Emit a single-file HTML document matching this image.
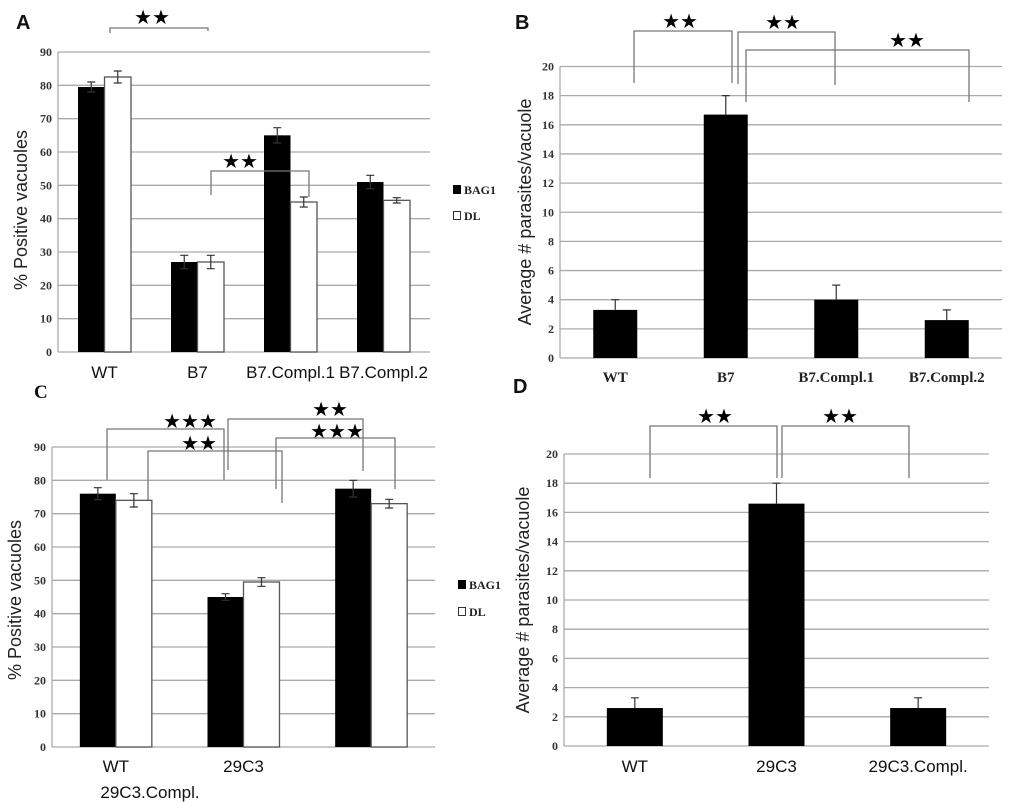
<!DOCTYPE html>
<html><head><meta charset="utf-8"><style>
html,body{margin:0;padding:0;background:#fff;}
svg{display:block;}
.tk{font-family:"Liberation Serif",serif;font-weight:bold;font-size:12px;fill:#333;}
.xl{font-family:"Liberation Sans",sans-serif;font-size:17px;fill:#111;}
.xls{font-family:"Liberation Serif",serif;font-weight:bold;font-size:15px;fill:#222;}
.yt{font-family:"Liberation Sans",sans-serif;font-size:18px;fill:#222;}
.lg{font-family:"Liberation Serif",serif;font-weight:bold;font-size:12px;fill:#222;}
.pl{font-family:"Liberation Sans",sans-serif;font-weight:bold;font-size:20px;fill:#111;}
.st{font-family:"DejaVu Sans",sans-serif;font-size:20px;fill:#000;}
</style></head><body>
<svg id="fig" width="1024" height="812" xmlns="http://www.w3.org/2000/svg"></svg>
<script>
// Panel A data
const catsA = ["WT","B7","B7.Compl.1","B7.Compl.2"];
const bagA = [79.5,27,65,51];
const bagErrA = [1.5,2,2.3,2];
const dlA = [82.5,27,45,45.5];
const dlErrA = [1.8,2,1.5,0.8];
const ticksA = [0,10,20,30,40,50,60,70,80,90];
// Panel B data
const catsB = ["WT","B7","B7.Compl.1","B7.Compl.2"];
const valB = [3.3,16.7,4,2.6];
const errB = [0.7,1.3,1,0.7];
const ticksB = [0,2,4,6,8,10,12,14,16,18,20];
// Panel C data
const catsC = ["WT","29C3",""];
const bagC = [76,45,77.5];
const bagErrC = [1.8,1,2.5];
const dlC = [74,49.5,73];
const dlErrC = [2,1.3,1.3];
const ticksC = [0,10,20,30,40,50,60,70,80,90];
// Panel D data
const catsD = ["WT","29C3","29C3.Compl."];
const valD = [2.6,16.6,2.6];
const errD = [0.7,1.4,0.7];
const ticksD = [0,2,4,6,8,10,12,14,16,18,20];

const svg = document.getElementById('fig');
const NS = "http://www.w3.org/2000/svg";
function el(tag, attrs, parent){
  const e = document.createElementNS(NS, tag);
  for (const k in attrs) e.setAttribute(k, attrs[k]);
  (parent||svg).appendChild(e);
  return e;
}
function txt(x,y,s,cls,anchor,parent){
  const t = el('text',{x:x,y:y,class:cls,'text-anchor':anchor||'middle'},parent);
  t.textContent = s;
  return t;
}

function axes(g, x0, x1, yTop, yBot, max, ticks){
  const ys = v => yBot - (v/max)*(yBot-yTop);
  ticks.forEach(t=>{
    const l = el('line',{x1:x0,x2:x1,y1:ys(t),y2:ys(t),stroke:'#aaa','stroke-width':1.3},g);
    
    
    const tl = txt(x0-6, ys(t)+4, String(t), 'tk', 'end', g);
    
    
  });
  const ax = el('line',{x1:x0,x2:x0,y1:yTop,y2:yBot,stroke:'#aaa','stroke-width':1.3},g);
  
  
  return ys;
}
function errbar(g, cx, top, bot){
  const e = el('path',{d:`M${cx},${top}V${bot}M${cx-4},${top}H${cx+4}M${cx-4},${bot}H${cx+4}`,stroke:'#333','stroke-width':1.2,fill:'none'},g);
  
  
}
function groupedPanel(name, x0, x1, yTop, yBot, max, ticks, cats, bag, bagE, dl, dlE, bw){
  const g = el('g',{});
  
  
  const ys = axes(g, x0, x1, yTop, yBot, max, ticks);
  const step = (x1-x0)/cats.length;
  cats.forEach((c,i)=>{
    const cx = x0 + step*(i+0.5);
    const b = el('rect',{x:cx-bw,y:ys(bag[i]),width:bw,height:yBot-ys(bag[i]),fill:'#000'},g);
    
    
    const w = el('rect',{x:cx,y:ys(dl[i]),width:bw,height:yBot-ys(dl[i]),fill:'#fff',stroke:'#555','stroke-width':1.3},g);
    
    
    errbar(g, cx-bw/2, ys(bag[i]+bagE[i]), ys(bag[i]-bagE[i]));
    errbar(g, cx+bw/2, ys(dl[i]+dlE[i]), ys(dl[i]-dlE[i]));
  });
  return {g, ys, step};
}
function singlePanel(name, x0, x1, yTop, yBot, max, ticks, cats, vals, errs, bw){
  const g = el('g',{});
  
  
  const ys = axes(g, x0, x1, yTop, yBot, max, ticks);
  const step = (x1-x0)/cats.length;
  cats.forEach((c,i)=>{
    const cx = x0 + step*(i+0.5);
    const b = el('rect',{x:cx-bw/2,y:ys(vals[i]),width:bw,height:yBot-ys(vals[i]),fill:'#000'},g);
    
    
    const e = el('path',{d:`M${cx},${ys(vals[i])}V${ys(vals[i]+errs[i])}M${cx-4},${ys(vals[i]+errs[i])}H${cx+4}`,stroke:'#333','stroke-width':1.2,fill:'none'},g);
    
    
  });
  return {g, ys, step};
}
function bracket(xa, xb, y, ya, yb, stars, sx, sy){
  const p = el('path',{d:`M${xa},${ya}V${y}H${xb}V${yb}`,stroke:'#777','stroke-width':1.3,fill:'none'});
  
  
  const t = txt(sx, sy, stars, 'st', 'middle');
  
  
}
function legend(x, y1, y2){
  const a = el('rect',{x:x,y:y1-9,width:8,height:9,fill:'#000'});
  
  
  const at = txt(x+11,y1,'BAG1','lg','start');
  
  
  const b = el('rect',{x:x+0.5,y:y2-8.5,width:7,height:8,fill:'#fff',stroke:'#333','stroke-width':1});
  
  
  const bt = txt(x+11,y2,'DL','lg','start');
  
  
}
function ytitle(cx, cy, s){
  const t = txt(0,0,s,'yt','middle');
  t.setAttribute('transform',`translate(${cx},${cy}) rotate(-90)`);
  
  
}
function plabel(x,y,s){
  const t = txt(x,y,s,'pl','start');
  
  
}

// Panel A
const A = groupedPanel('panel-a-chart', 58, 430, 52, 352, 90, ticksA, catsA, bagA, bagErrA, dlA, dlErrA, 26.5);
catsA.forEach((c,i)=>{
  const t = txt(58+A.step*(i+0.5), 378, c, 'xl');
  
  
});
legend(453,194,220);
ytitle(27,210,'% Positive vacuoles');
plabel(16,29,'A');
bracket(110,208,28,33,31,'★★',152,24);
bracket(211,309,171,195,197,'★★',240,168);

// Panel B
const B = singlePanel('panel-b-chart', 560, 1002, 66.5, 358, 20, ticksB, catsB, valB, errB, 44);
catsB.forEach((c,i)=>{
  const t = txt(560+B.step*(i+0.5), 382, c, 'xls');
  
  
});
ytitle(531,212,'Average # parasites/vacuole');
plabel(515,29,'B');
bracket(634,732,31,83,83,'★★',680,28);
bracket(738,835,32,84,85,'★★',783,29);
bracket(746,969,50,102,102,'★★',907,47);

// Panel C
const C = groupedPanel('panel-c-chart', 52, 435, 447, 747, 90, ticksC, catsC, bagC, bagErrC, dlC, dlErrC, 36);
catsC.forEach((c,i)=>{
  if(!c) return;
  const t = txt(52+C.step*(i+0.5), 772, c, 'xl');
  
  
});
{const t = txt(150,798,'29C3.Compl.','xl');  }
legend(458,589,616);
ytitle(21,600,'% Positive vacuoles');
{const t = txt(34,398,'C','pl','start'); t.setAttribute('style','font-family:"Liberation Serif",serif;font-size:19px');  }
bracket(107,224,429,480,480,'★★★',190,428);
bracket(148,282,451,500,503,'★★',199,450);
bracket(228,363,419,470,471,'★★',330,416);
bracket(276,395,438,489,489,'★★★',337,438);

// Panel D
const D = singlePanel('panel-d-chart', 564, 989, 454, 746, 20, ticksD, catsD, valD, errD, 56);
catsD.forEach((c,i)=>{
  const t = txt(564+D.step*(i+0.5), 772, c, 'xl');
  
  
});
ytitle(529,600,'Average # parasites/vacuole');
plabel(513,393,'D');
bracket(650,777,426,478,478,'★★',715,423);
bracket(782,909,426,478,478,'★★',840,423);
</script>
</body></html>
